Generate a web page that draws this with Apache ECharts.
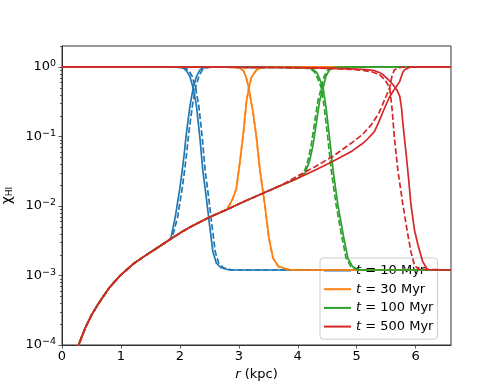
<!DOCTYPE html>
<html lang="en">
<head>
<meta charset="UTF-8">
<title>x_HI profiles</title>
<style>
  html, body { margin: 0; padding: 0; background: #fff; }
  #container { width: 501px; height: 388px; }
</style>
</head>
<body>
<div id="container"></div>
<script src="https://cdn.jsdelivr.net/npm/echarts@6/dist/echarts.min.js"></script>
<script>
// legend names, one per snapshot time
var names = ['t = 10 Myr', 't = 30 Myr', 't = 100 Myr', 't = 500 Myr'];
var colors = ['#1f77b4', '#ff7f0e', '#2ca02c', '#d62728'];

// common inner profile (all curves sit on it before their front)
var envR    = [0, 0.25, 0.3, 0.4, 0.5, 0.6, 0.7, 0.8, 0.9, 1.0, 1.2, 1.4, 1.6, 1.8, 2.0, 2.2, 2.5, 2.8, 3.1, 3.4, 3.7, 4.0];
var envRise = [null, 8.3e-5, 1.1e-4, 1.8e-4, 2.69e-4, 3.72e-4, 5.0e-4, 6.6e-4, 8.3e-4, 1.02e-3, 1.45e-3, 1.9e-3, 2.45e-3, 3.16e-3, 4.07e-3, 5.1e-3, 6.9e-3, 8.9e-3, 1.17e-2, 1.51e-2, 1.95e-2, 2.5e-2];
var envFall = [1, 0.99992, 0.99989, 0.99982, 0.99973, 0.99963, 0.9995, 0.99934, 0.99917, 0.99898, 0.99855, 0.9981, 0.99755, 0.99684, 0.9959, 0.9949, 0.9931, 0.9911, 0.9883, 0.9849, 0.9805, 0.975];

// 10 Myr
var r10     = [1.85, 1.92, 2.0, 2.06, 2.11, 2.17, 2.23, 2.28, 2.34, 2.39, 2.45, 2.51, 2.56, 2.62, 2.70, 2.84, 6.6];
var r10d    = [1.87, 1.96, 2.04, 2.10, 2.15, 2.21, 2.27, 2.32, 2.38, 2.43, 2.49, 2.55, 2.60, 2.66, 2.74, 2.88, 6.6];
var rise10  = [3.5e-3, 6.8e-3, 0.018, 0.044, 0.11, 0.27, 0.52, 0.72, 0.905, 0.968, 0.987, 0.9952, 0.9978, 0.9985, 0.99871, 0.9988, 0.9988];
var fall10  = [0.9965, 0.9932, 0.982, 0.956, 0.89, 0.73, 0.48, 0.28, 0.095, 0.032, 0.0129, 0.0048, 0.0022, 0.0015, 0.00129, 0.0012, 0.0012];

// 30 Myr (dashed lies on the solid one)
var r30     = [2.82, 2.90, 2.96, 3.02, 3.08, 3.13, 3.17, 3.21, 3.24, 3.30, 3.36, 3.44, 3.51, 3.58, 3.67, 3.78, 3.90, 6.6];
var rise30  = [9.1e-3, 0.0129, 0.018, 0.044, 0.117, 0.32, 0.5, 0.69, 0.77, 0.905, 0.968, 0.9895, 0.99653, 0.99822, 0.99865, 0.99874, 0.9988, 0.9988];
var fall30  = [0.9909, 0.9871, 0.982, 0.956, 0.883, 0.68, 0.5, 0.31, 0.23, 0.095, 0.032, 0.0105, 0.00347, 0.00178, 0.00135, 0.00126, 0.0012, 0.0012];

// 100 Myr
var r100    = [4.12, 4.20, 4.26, 4.32, 4.37, 4.43, 4.48, 4.54, 4.60, 4.68, 4.77, 4.85, 4.93, 5.05, 6.6];
var r100d   = [4.10, 4.17, 4.23, 4.29, 4.34, 4.40, 4.45, 4.51, 4.57, 4.65, 4.74, 4.82, 4.90, 5.02, 6.6];
var rise100 = [0.029, 0.044, 0.076, 0.166, 0.32, 0.5, 0.74, 0.905, 0.968, 0.9895, 0.9961, 0.99822, 0.99866, 0.9988, 0.9988];
var fall100 = [0.971, 0.956, 0.924, 0.834, 0.68, 0.5, 0.26, 0.095, 0.032, 0.0105, 0.0039, 0.00178, 0.00134, 0.0012, 0.0012];

// 500 Myr solid
var r500     = [4.3, 4.6, 4.9, 5.1, 5.2, 5.3, 5.38, 5.45, 5.55, 5.62, 5.68, 5.73, 5.76, 5.78, 5.81, 5.84, 5.88, 5.92, 5.98, 6.04, 6.12, 6.2, 6.6];
var rise500  = [0.033, 0.044, 0.060, 0.079, 0.095, 0.117, 0.165, 0.23, 0.36, 0.45, 0.53, 0.62, 0.74, 0.834, 0.905, 0.945, 0.975, 0.9895, 0.9955, 0.99725, 0.99842, 0.99878, 0.9988];
var fall500  = [0.967, 0.956, 0.940, 0.921, 0.905, 0.883, 0.835, 0.77, 0.64, 0.55, 0.47, 0.38, 0.26, 0.166, 0.095, 0.055, 0.025, 0.0105, 0.0045, 0.00275, 0.00158, 0.00122, 0.0012];
// 500 Myr dashed
var r500d    = [4.0, 4.3, 4.6, 4.9, 5.1, 5.25, 5.38, 5.48, 5.56, 5.60, 5.64, 5.70, 5.78, 5.86, 5.92, 5.98, 6.05, 6.6];
var rise500d = [0.027, 0.037, 0.052, 0.079, 0.107, 0.148, 0.219, 0.347, 0.5, 0.75, 0.905, 0.968, 0.989, 0.9958, 0.9978, 0.9986, 0.99877, 0.9988];
var fall500d = [0.973, 0.963, 0.948, 0.921, 0.893, 0.852, 0.781, 0.653, 0.5, 0.25, 0.095, 0.032, 0.011, 0.0042, 0.0022, 0.0014, 0.00123, 0.0012];

var xTicks = [0, 1, 2, 3, 4, 5, 6];
var yMinorMult = [2, 3, 4, 5, 6, 7, 8, 9];
var yMinorDecades = [1e-4, 1e-3, 1e-2, 1e-1, 1];

var FONT = 'DejaVu Sans';

// inner profile up to the front, then the front itself
function curve(rF, vF, envV) {
    var pts = [];
    for (var i = 0; i < envR.length; i++) {
        if (envR[i] < rF[0] && envV[i] != null) pts.push([envR[i], envV[i]]);
    }
    for (var j = 0; j < rF.length; j++) pts.push([rF[j], vF[j]]);
    return pts;
}

var dash = [6, 2.6];
var sets = [
    [0, 'solid', r10, rise10, fall10],
    [0, dash, r10d, rise10, fall10],
    [1, 'solid', r30, rise30, fall30],
    [1, dash, r30, rise30, fall30],
    [2, 'solid', r100, rise100, fall100],
    [2, dash, r100d, rise100, fall100],
    [3, 'solid', r500, rise500, fall500],
    [3, dash, r500d, rise500d, fall500d]
];

var series = [];
sets.forEach(function (s, k) {
    var pairs = [[s[3], envRise], [s[4], envFall]];
    pairs.forEach(function (p) {
        series.push({
            name: names[s[0]],
            type: 'line',
            data: curve(s[2], p[0], p[1]),
            symbol: 'none',
            showSymbol: false,
            silent: true,
            z: 2 + k,
            itemStyle: { color: colors[s[0]] },
            lineStyle: { color: colors[s[0]], width: 1.7, type: s[1], join: 'round' }
        });
    });
});

// minor ticks on the log axis (2..9 x 10^n)
var minorVals = [];
yMinorDecades.forEach(function (d) {
    yMinorMult.forEach(function (m) {
        if (m * d <= 2) minorVals.push([0, m * d]);
    });
});
series.push({
    type: 'custom',
    silent: true,
    clip: false,
    z: 20,
    data: minorVals,
    encode: { x: 0, y: 1 },
    renderItem: function (params, api) {
        var p = api.coord([api.value(0), api.value(1)]);
        return {
            type: 'line',
            shape: { x1: p[0] - 2, y1: Math.round(p[1]) + 0.5, x2: p[0], y2: Math.round(p[1]) + 0.5 },
            style: { stroke: '#333', lineWidth: 0.8 }
        };
    }
});

var supMap = { '0': '0', '-1': '\u22121', '-2': '\u22122', '-3': '\u22123', '-4': '\u22124' };

var option = {
    animation: false,
    backgroundColor: '#fff',
    grid: {
        left: 62, right: 50, top: 46, bottom: 43,
        outerBoundsMode: 'none',
        containLabel: false,
        show: true, borderColor: '#333', borderWidth: 1, backgroundColor: 'transparent'
    },
    legend: {
        data: names,
        orient: 'vertical',
        left: 320,
        top: 258,
        icon: 'rect',
        itemWidth: 27,
        itemHeight: 2,
        itemGap: 3.7,
        itemTextGap: 13,
        padding: [5, 4, 5, 4],
        backgroundColor: 'rgba(255,255,255,0.8)',
        borderColor: '#cccccc',
        borderWidth: 1,
        borderRadius: 3,
        selectedMode: false,
        formatter: function (n) { return '{i|t}' + n.slice(1); },
        textStyle: {
            fontFamily: FONT, fontSize: 13, color: '#000', lineHeight: 15,
            rich: { i: { fontFamily: FONT, fontSize: 13, fontStyle: 'italic', color: '#000', lineHeight: 15 } }
        }
    },
    xAxis: {
        type: 'value',
        min: 0,
        max: 6.6,
        interval: 1,
        name: '{i|r} (kpc)',
        nameLocation: 'middle',
        nameGap: 18,
        nameTextStyle: {
            fontFamily: FONT, fontSize: 13, color: '#000',
            rich: { i: { fontFamily: FONT, fontSize: 13, fontStyle: 'italic', color: '#000' } }
        },
        axisLine: { show: true, lineStyle: { color: '#333', width: 1 } },
        axisTick: { show: true, length: 3.5, customValues: xTicks, lineStyle: { color: '#333', width: 0.8 } },
        axisLabel: {
            customValues: xTicks,
            margin: 5,
            fontFamily: FONT, fontSize: 13, color: '#000'
        },
        splitLine: { show: false }
    },
    yAxis: {
        type: 'log',
        logBase: 10,
        min: 1e-4,
        max: 2,
        name: '{c|\u03c7}{s|HI}',
        nameLocation: 'middle',
        nameRotate: 90,
        nameGap: 40,
        nameTextStyle: {
            fontFamily: FONT, fontSize: 13, color: '#000',
            rich: {
                c: { fontFamily: FONT, fontSize: 14, color: '#000' },
                s: { fontFamily: FONT, fontSize: 9, color: '#000', verticalAlign: 'bottom', padding: [4, 0, 0, 0] }
            }
        },
        axisLine: { show: true, lineStyle: { color: '#333', width: 1 } },
        axisTick: { show: true, length: 3.5, lineStyle: { color: '#333', width: 0.8 } },
        axisLabel: {
            margin: 6,
            showMaxLabel: false,
            formatter: function (v) {
                var e = Math.round(Math.log10(v));
                if (Math.abs(Math.log10(v) - e) > 1e-6 || e > 0) return '';
                return '{b|10}{s|' + supMap[String(e)] + '}';
            },
            rich: {
                b: { fontFamily: FONT, fontSize: 13, color: '#000', lineHeight: 16 },
                s: { fontFamily: FONT, fontSize: 9.5, color: '#000', verticalAlign: 'top', lineHeight: 12 }
            }
        },
        splitLine: { show: false }
    },
    series: series
};

var chart = echarts.init(document.getElementById('container'), null, { renderer: 'canvas' });
chart.setOption(option);
</script>
</body>
</html>
